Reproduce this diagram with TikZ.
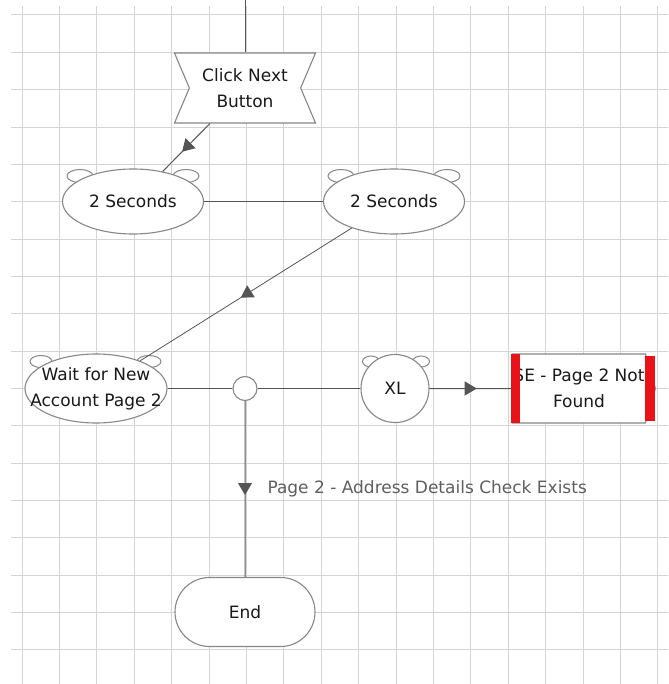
\documentclass[tikz,border=0pt]{standalone}
\usepackage{fontspec}
\setmainfont{DejaVu Sans}
\usepackage{tikz}
\usetikzlibrary{arrows.meta,positioning,shapes.geometric,shapes.symbols,shapes.misc,decorations.markings,calc}
\pgfdeclarelayer{background}
\pgfsetlayers{background,main}
\definecolor{gridgray}{RGB}{212,212,212}
\definecolor{shapegray}{RGB}{135,135,135}
\definecolor{linegray}{RGB}{85,85,85}
\definecolor{textgray}{RGB}{25,25,25}
\definecolor{labelgray}{RGB}{95,95,95}
\definecolor{flagred}{RGB}{232,18,24}

\begin{document}
\begin{tikzpicture}[x=1pt,y=-1pt,
  font=\fontsize{17}{26}\selectfont,
  base/.style={draw=shapegray,line width=1.1pt,fill=white,text=textgray,inner sep=1pt,align=center},
  waitnode/.style={base,ellipse,minimum width=141pt,minimum height=65pt},
  xlnode/.style={base,circle,minimum size=68pt},
  junction/.style={base,circle,minimum size=24pt,inner sep=0pt},
  eventnode/.style={base,signal,signal from=west and east,signal to=nowhere,
    signal pointer angle=134,minimum width=141pt,minimum height=70pt},
  flagnode/.style={base,signal,signal from=nowhere,signal to=east,
    signal pointer angle=148,minimum width=136pt,minimum height=69pt},
  endnode/.style={base,rounded rectangle,minimum width=142pt,minimum height=69pt},
  ear/.style={draw=shapegray,line width=1pt,fill=white},
  gridline/.style={draw=gridgray,line width=1pt},
  conn/.style={draw=linegray,line width=1pt},
  midarrow/.style={postaction={decorate},decoration={markings,
    mark=at position 0.5 with {\arrow[xshift=6pt,linegray]{Triangle[length=12pt,width=14pt]}}}},
  edgelabel/.style={right=22pt,text=labelgray,inner sep=0pt}]

  \useasboundingbox (0,0) rectangle (668,684);

  % paper
  \begin{pgfonlayer}{background}
    \fill[white] (0,0) rectangle (668,684);
    \foreach \i in {0,...,17}
      \draw[gridline] ({22+37.4*\i},6) -- ({22+37.4*\i},684);
    \foreach \i in {0,...,17}
      \draw[gridline] (11,{15+37.35*\i}) -- (668,{15+37.35*\i});
  \end{pgfonlayer}

  \coordinate (top) at (245,0);
  \node[eventnode] (click) at (245,88) {Click Next\\Button};
  \node[waitnode] (twoA) at (133,201.5) {2 Seconds};
  \node[waitnode] (twoB) at (394,201.5) {2 Seconds};
  \node[waitnode,minimum width=142pt,minimum height=69pt,inner xsep=-17pt] (wait) at (96,388.5) {Wait for New\\Account Page 2};
  \node[junction] (split) at (245,388.5) {};
  \node[xlnode] (xl) at (395,388.5) {XL};
  \node[flagnode] (notfound) at (579,388.5) {SE - Page 2 Not\\Found};
  \node[endnode] (end) at (245,612) {End};

  % ears
  \begin{pgfonlayer}{background}
    \foreach \n in {twoA,twoB} {
      \draw[ear] ($(\n.center)+(-53,-25.5)$) ellipse [x radius=13pt,y radius=6.5pt];
      \draw[ear] ($(\n.center)+(53,-25.5)$) ellipse [x radius=13pt,y radius=6.5pt];
    }
    \draw[ear] ($(wait.center)+(-55,-27)$) ellipse [x radius=11pt,y radius=6pt];
    \draw[ear] ($(wait.center)+(53,-27)$) ellipse [x radius=12pt,y radius=6pt];
    \draw[ear] ($(xl.center)+(-24,-27)$) ellipse [x radius=8.5pt,y radius=5.5pt];
    \draw[ear] ($(xl.center)+(26,-27)$) ellipse [x radius=8.5pt,y radius=5.5pt];
  \end{pgfonlayer}

  % red flags
  \fill[flagred] ($(notfound.center)+(-68,-34.5)$) rectangle ($(notfound.center)+(-59,34.5)$);
  \fill[flagred] ($(notfound.center)+(66,-32.5)$) rectangle ($(notfound.center)+(76,32.5)$);

  \draw[conn] (top) -- (click);
  \draw[conn,midarrow] (click) -- (twoA);
  \draw[conn] (twoA) -- (twoB);
  \draw[conn,line width=0.8pt,midarrow] (twoB) -- (wait);
  \draw[conn] (wait) -- (split);
  \draw[conn] (split) -- (xl);
  \draw[conn,midarrow] (xl) -- (notfound);
  \draw[conn,midarrow] (split) -- node[edgelabel] {Page 2 - Address Details Check Exists} (end);

\end{tikzpicture}
\end{document}
